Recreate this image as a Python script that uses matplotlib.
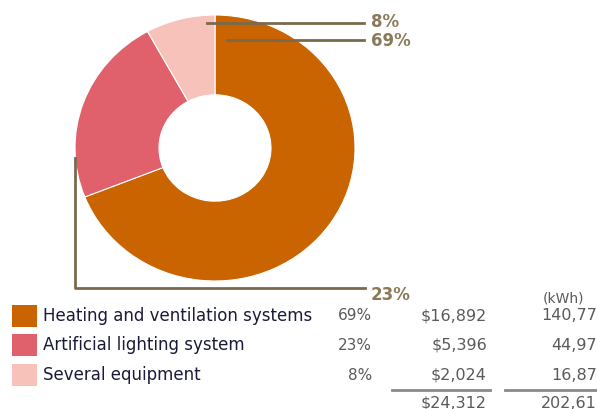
import matplotlib.pyplot as plt

# data
categories = ['Heating and ventilation systems', 'Artificial lighting system', 'Several equipment']
shares = [69, 23, 8]
share_labels = ['69%', '23%', '8%']
cost_labels = ['$16,892', '$5,396', '$2,024']
kwh_labels = ['140,77', '44,97', '16,87']
cost_total = '$24,312'
kwh_total = '202,61'
colors = ['#c96400', '#e0606b', '#f7c2ba']

W, H = 597, 409
line_col = '#7a6a4c'
lab_col = '#8a7a58'
num_col = '#5a5a5a'
plt.rcParams['font.family'] = ['DejaVu Sans']

fig = plt.figure(figsize=(W / 100, H / 100), dpi=100)

# the donut in the source is slightly stretched sideways, so its own axes
# box (left, top, right, bottom in px) with auto aspect
pl, pt, pr, pb = 75, 15, 355, 281
pax = fig.add_axes([pl / W, 1 - pb / H, (pr - pl) / W, (pb - pt) / H])
pax.pie(shares, colors=colors, startangle=90, counterclock=False, radius=1,
        wedgeprops=dict(width=0.6, edgecolor='white', linewidth=0.8))
pax.set_xlim(-1, 1)
pax.set_ylim(-1, 1)
pax.set_aspect('auto')
pax.axis('off')

ax = fig.add_axes([0, 0, 1, 1])
ax.set_xlim(0, W)
ax.set_ylim(0, H)
ax.axis('off')

# leader lines
ax.plot([207, 364], [H - 23, H - 23], color=line_col, lw=2)
ax.plot([227, 364], [H - 40, H - 40], color=line_col, lw=2)
ax.plot([75, 75, 365], [H - 158, H - 288, H - 288], color=line_col, lw=2)
ax.text(371, H - 22, '8%', color=lab_col, fontsize=12, fontweight='bold', va='center')
ax.text(371, H - 41, '69%', color=lab_col, fontsize=12, fontweight='bold', va='center')
ax.text(371, H - 295, '23%', color=lab_col, fontsize=12, fontweight='bold', va='center')

# legend table
ax.text(564, H - 298, '(kWh)', color=num_col, fontsize=10, va='center', ha='center')
rows_y = [316, 345, 375]
for i, y in enumerate(rows_y):
    ax.add_patch(plt.Rectangle((12, H - y - 11), 25, 22, color=colors[i], lw=0))
    ax.text(43, H - y, categories[i], color='#1a1a3a', fontsize=12, va='center')
    ax.text(372, H - y, share_labels[i], color=num_col, fontsize=11, va='center', ha='right')
    ax.text(487, H - y, cost_labels[i], color=num_col, fontsize=11.5, va='center', ha='right')
    ax.text(597, H - y, kwh_labels[i], color=num_col, fontsize=11.5, va='center', ha='right')

ax.plot([392, 490], [H - 390, H - 390], color='#8a8a8a', lw=2)
ax.plot([505, 597], [H - 390, H - 390], color='#8a8a8a', lw=2)
ax.text(487, H - 403, cost_total, color=num_col, fontsize=11.5, va='center', ha='right')
ax.text(597, H - 403, kwh_total, color=num_col, fontsize=11.5, va='center', ha='right')

fig.savefig('out.png', dpi=100)
